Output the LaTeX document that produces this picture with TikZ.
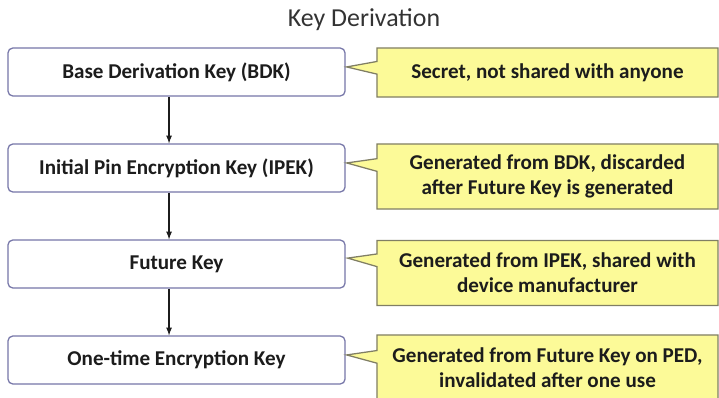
\documentclass[tikz,border=0pt]{standalone}
\usepackage{fontspec}
\setmainfont{Carlito}
\usetikzlibrary{positioning, shapes, shapes.callouts, arrows}
\definecolor{boxline}{RGB}{118,118,168}
\definecolor{noteline}{RGB}{128,126,100}
\definecolor{notefill}{RGB}{252,250,152}
\definecolor{ink}{RGB}{28,28,28}

\begin{document}
\begin{tikzpicture}[x=0.025cm, y=-0.025cm]
\tikzstyle{keybox}=[draw=boxline, line width=0.9pt, fill=white, rounded corners=3.5pt, minimum width=8.425cm, minimum height=1.2cm, inner sep=0pt, text=ink, font=\bfseries\fontsize{15}{18}\selectfont];
\tikzstyle{note}=[rectangle callout, draw=noteline, line width=0.9pt, fill=notefill, minimum width=8.525cm, minimum height=1.625cm, inner sep=0pt, align=center, callout pointer width=9pt, text=ink, font=\bfseries\fontsize{15}{18}\selectfont];
\useasboundingbox (0,0) rectangle (719,397);
\path (364,20) node[text=ink!90, font=\fontsize{18.4}{22}\selectfont] (title) {Key Derivation};
% key chain
\path (176.5,72) node[keybox] (bdk) {Base Derivation Key (BDK)};
\path (176.5,168) node[keybox] (ipek) {Initial Pin Encryption Key (IPEK)};
\path (176.5,264) node[keybox] (future) {Future Key};
\path (176.5,360) node[keybox] (onetime) {One-time Encryption Key};
\draw [-latex, line width=0.9pt, color=ink] ([xshift=-5.3pt]bdk.south) -- ([xshift=-5.3pt]ipek.north);
\draw [-latex, line width=0.9pt, color=ink] ([xshift=-5.3pt]ipek.south) -- ([xshift=-5.3pt]future.north);
\draw [-latex, line width=0.9pt, color=ink] ([xshift=-5.3pt]future.south) -- ([xshift=-5.3pt]onetime.north);
% pointer tips
\coordinate (t1) at ([xshift=0.7pt, yshift=3.6pt]bdk.east);
\coordinate (t2) at ([xshift=0.7pt, yshift=3.6pt]ipek.east);
\coordinate (t3) at ([xshift=1.4pt, yshift=4.2pt]future.east);
\coordinate (t4) at ([xshift=0.7pt, yshift=3.6pt]onetime.east);
% notes
\path (547.5,72.5) node[note, minimum height=1.225cm, callout absolute pointer=(t1)] (n1) {Secret, not shared with anyone};
\path (547.5,176.5) node[note, callout absolute pointer=(t2)] (n2) {Generated from BDK, discarded\\after Future Key is generated};
\path (547.5,273) node[note, callout absolute pointer=(t3)] (n3) {Generated from IPEK, shared with\\device manufacturer};
\path (547.5,367.5) node[note, callout absolute pointer=(t4)] (n4) {Generated from Future Key on PED,\\invalidated after one use};
\end{tikzpicture}
\end{document}
